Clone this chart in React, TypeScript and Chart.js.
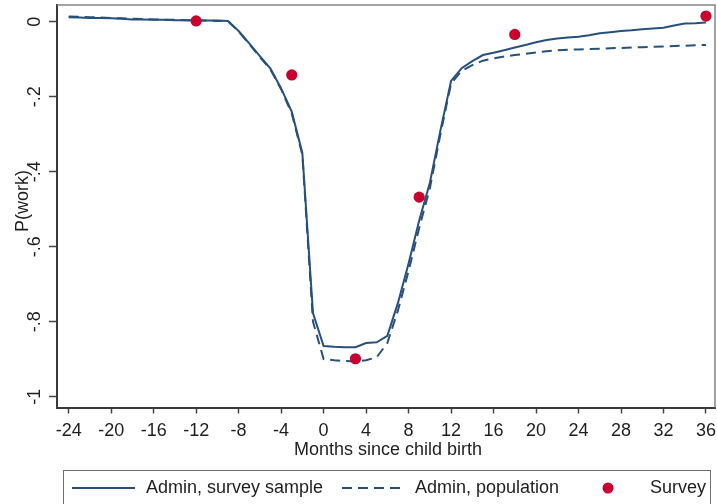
import React, { useEffect, useRef } from 'react';
import { Chart, registerables } from 'chart.js';

Chart.register(...registerables);

const months = [
  -24, -23, -22, -21, -20, -19, -18, -17, -16, -15, -14, -13, -12, -11, -10, -9,
  -8, -7, -6, -5, -4, -3, -2, -1, 0, 1, 2, 3, 4, 5, 6, 7, 8, 9, 10, 11, 12,
  13, 14, 15, 16, 17, 18, 19, 20, 21, 22, 23, 24, 25, 26, 27, 28, 29, 30, 31,
  32, 33, 34, 35, 36,
];

const adminSample = [
  0.012, 0.011, 0.010, 0.010, 0.009, 0.008, 0.006, 0.006, 0.005, 0.005, 0.004, 0.004, 0.003, 0.003, 0.003, 0.002,
  -0.025, -0.058, -0.092, -0.125, -0.178, -0.24, -0.35, -0.777, -0.865, -0.867, -0.868, -0.868, -0.857, -0.855, -0.838,
  -0.75, -0.645, -0.53, -0.43, -0.29, -0.158,
  -0.124, -0.105, -0.089, -0.083, -0.076, -0.069, -0.062, -0.055, -0.049, -0.045, -0.042, -0.040, -0.036, -0.031,
  -0.028, -0.025, -0.023, -0.020, -0.018, -0.016, -0.010, -0.005, -0.004, -0.002,
];

const adminPopulation = [
  0.014, 0.013, 0.012, 0.011, 0.010, 0.009, 0.008, 0.007, 0.006, 0.005, 0.005, 0.004, 0.003, 0.003, 0.002, 0.001,
  -0.026, -0.06, -0.094, -0.128, -0.18, -0.245, -0.355, -0.80, -0.90, -0.903, -0.905, -0.906, -0.903, -0.895, -0.857,
  -0.77, -0.665, -0.55, -0.445, -0.30, -0.165,
  -0.131, -0.116, -0.104, -0.098, -0.093, -0.089, -0.086, -0.082, -0.079, -0.076, -0.075, -0.074, -0.073, -0.072,
  -0.071, -0.070, -0.069, -0.068, -0.067, -0.066, -0.065, -0.064, -0.063, -0.062,
];

const surveyMonths = [-12, -3, 3, 9, 18, 36];
const surveyValues = [0.002, -0.142, -0.899, -0.468, -0.034, 0.015];

const xTickValues = [-24, -20, -16, -12, -8, -4, 0, 4, 8, 12, 16, 20, 24, 28, 32, 36];
const yTickValues = [0, -0.2, -0.4, -0.6, -0.8, -1];
const yTickLabels = ['0', '-.2', '-.4', '-.6', '-.8', '-1'];

const xTitle = 'Months since child birth';
const yTitle = 'P(work)';
const seriesNames = ['Admin, survey sample', 'Admin, population', 'Survey'];

const LINE_COLOR = '#27507c';
const DOT_COLOR = '#c8002f';
const FONT = '"Liberation Sans", Arial, sans-serif';
const TEXT_COLOR = '#1e1e1e';

export default function App() {
  const canvasRef = useRef<HTMLCanvasElement | null>(null);

  useEffect(() => {
    document.body.style.margin = '0';
    const canvas = canvasRef.current;
    if (!canvas) return;

    const decorPlugin = {
      id: 'decor',
      afterDraw(chart: any) {
        const ctx = chart.ctx as CanvasRenderingContext2D;
        const area = chart.chartArea;
        const yScale = chart.scales.y;
        ctx.save();
        // top and right frame
        ctx.strokeStyle = '#858585';
        ctx.lineWidth = 1.5;
        ctx.beginPath();
        ctx.moveTo(area.left, area.top);
        ctx.lineTo(area.right, area.top);
        ctx.lineTo(area.right, area.bottom);
        ctx.stroke();

        // y tick labels (rotated)
        ctx.fillStyle = TEXT_COLOR;
        ctx.font = `18px ${FONT}`;
        ctx.textAlign = 'center';
        ctx.textBaseline = 'middle';
        yTickValues.forEach((v, i) => {
          const py = yScale.getPixelForValue(v);
          ctx.save();
          ctx.translate(area.left - 22, py);
          ctx.rotate(-Math.PI / 2);
          ctx.fillText(yTickLabels[i], 0, 0);
          ctx.restore();
        });

        // y title
        ctx.save();
        ctx.translate(area.left - 34, 201);
        ctx.rotate(-Math.PI / 2);
        ctx.fillText(yTitle, 0, 0);
        ctx.restore();

        // x title
        ctx.fillText(xTitle, (area.left + area.right) / 2 + 2, area.bottom + 43);

        // legend
        const ly = 488;
        ctx.strokeStyle = '#6e6e6e';
        ctx.lineWidth = 1;
        ctx.strokeRect(63.5, 470.5, 647, 45);

        ctx.strokeStyle = LINE_COLOR;
        ctx.lineWidth = 2;
        ctx.beginPath();
        ctx.moveTo(72, ly);
        ctx.lineTo(135, ly);
        ctx.stroke();

        ctx.setLineDash([10, 6]);
        ctx.beginPath();
        ctx.moveTo(342, ly);
        ctx.lineTo(400, ly);
        ctx.stroke();
        ctx.setLineDash([]);

        ctx.fillStyle = DOT_COLOR;
        ctx.beginPath();
        ctx.arc(608, ly, 5.5, 0, Math.PI * 2);
        ctx.fill();

        ctx.fillStyle = TEXT_COLOR;
        ctx.textAlign = 'left';
        ctx.fillText(seriesNames[0], 146, ly);
        ctx.fillText(seriesNames[1], 415, ly);
        ctx.fillText(seriesNames[2], 650, ly);
        ctx.restore();
      },
    };

    const chart = new Chart(canvas, {
      type: 'line',
      data: {
        datasets: [
          {
            type: 'scatter',
            label: seriesNames[2],
            data: surveyMonths.map((m, i) => ({ x: m, y: surveyValues[i] })),
            backgroundColor: DOT_COLOR,
            borderColor: DOT_COLOR,
            pointRadius: 5.6,
            pointBorderWidth: 0,
            order: 0,
            clip: false as any,
          },
          {
            label: seriesNames[0],
            data: months.map((m, i) => ({ x: m, y: adminSample[i] })),
            borderColor: LINE_COLOR,
            borderWidth: 2,
            pointRadius: 0,
            tension: 0,
            fill: false,
            order: 1,
          },
          {
            label: seriesNames[1],
            data: months.map((m, i) => ({ x: m, y: adminPopulation[i] })),
            borderColor: LINE_COLOR,
            borderWidth: 2,
            borderDash: [10, 6],
            pointRadius: 0,
            tension: 0,
            fill: false,
            order: 2,
          },
        ],
      },
      options: {
        animation: false,
        responsive: false,
        maintainAspectRatio: false,
        layout: { autoPadding: false, padding: { left: 0, top: 5, right: 2, bottom: 0 } },
        plugins: {
          legend: { display: false },
          tooltip: { enabled: false },
        },
        scales: {
          x: {
            type: 'linear',
            min: -25.1,
            max: 36.85,
            afterBuildTicks: (s: any) => {
              s.ticks = xTickValues.map((v) => ({ value: v }));
            },
            afterFit: (s: any) => {
              s.height = 96.5;
              s.paddingLeft = 0;
              s.paddingRight = 0;
            },
            grid: {
              drawOnChartArea: false,
              drawTicks: true,
              tickLength: 6,
              tickWidth: 1.5,
              tickColor: '#444',
            },
            border: { display: true, color: '#3a3a3a', width: 2 },
            ticks: {
              autoSkip: false,
              maxRotation: 0,
              minRotation: 0,
              padding: 7,
              color: TEXT_COLOR,
              font: { family: FONT, size: 18 },
              callback: (v: any) => String(v),
            },
          },
          y: {
            type: 'linear',
            min: -1.029,
            max: 0.0445,
            afterBuildTicks: (s: any) => {
              s.ticks = yTickValues.map((v) => ({ value: v }));
            },
            afterFit: (s: any) => {
              s.width = 57;
              s.paddingTop = 0;
              s.paddingBottom = 0;
            },
            grid: {
              drawOnChartArea: false,
              drawTicks: true,
              tickLength: 8,
              tickWidth: 1.5,
              tickColor: '#444',
            },
            border: { display: true, color: '#3a3a3a', width: 2 },
            ticks: { display: false },
          },
        },
      },
      plugins: [decorPlugin],
    } as any);

    return () => {
      chart.destroy();
    };
  }, []);

  return (
    <div style={{ width: 717, height: 504, position: 'relative' }}>
      <canvas ref={canvasRef} width={717} height={504} style={{ display: 'block' }} />
    </div>
  );
}
